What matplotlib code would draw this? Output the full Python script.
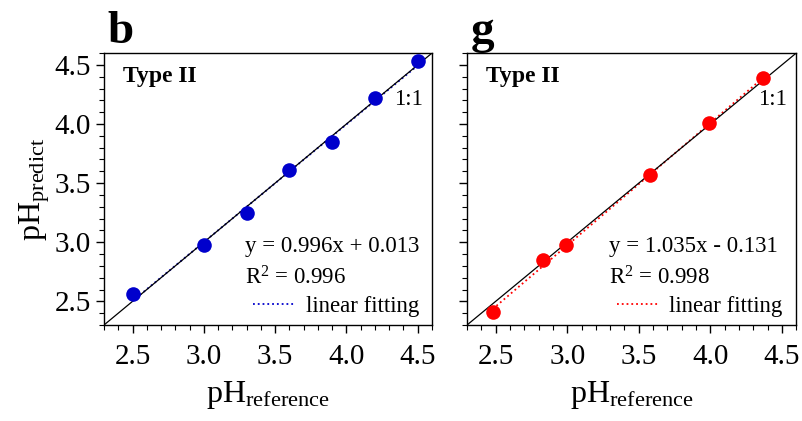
import numpy as np
import matplotlib
matplotlib.use('Agg')
import matplotlib.pyplot as plt
from matplotlib.ticker import MultipleLocator

plt.rcParams['font.family'] = ['Liberation Serif', 'DejaVu Serif']
plt.rcParams['mathtext.fontset'] = 'custom'
plt.rcParams['mathtext.rm'] = 'Liberation Serif'
plt.rcParams['mathtext.it'] = 'Liberation Serif:italic'

# panel b (blue)
x_b = [2.5, 3.0, 3.3, 3.6, 3.9, 4.2, 4.5]
y_b = [2.56, 2.98, 3.25, 3.61, 3.85, 4.22, 4.53]
fit_b = (0.996, 0.013)
eq_b = "y = 0.996x + 0.013"
r2_b = "0.996"

# panel g (red)
x_g = [2.48, 2.83, 2.99, 3.58, 3.99, 4.37]
y_g = [2.41, 2.85, 2.98, 3.57, 4.01, 4.39]
fit_g = (1.035, -0.131)
eq_g = "y = 1.035x - 0.131"
r2_g = "0.998"

lims = (2.3, 4.6)
ticks = [2.5, 3.0, 3.5, 4.0, 4.5]

fig = plt.figure(figsize=(8.03, 4.21), dpi=100)
ax1 = fig.add_axes([0.1295, 0.228, 0.4085, 0.646])
ax2 = fig.add_axes([0.5816, 0.228, 0.41, 0.646])


def draw_panel(ax, x, y, fit, eq, r2, color, letter, show_ylabel):
    ax.set_xlim(lims)
    ax.set_ylim(lims)
    ax.plot(lims, lims, color='black', lw=0.9, zorder=3)
    xf = np.array([min(x), max(x)])
    ax.plot(xf, fit[0] * xf + fit[1], ls=':', color=color, lw=1.3, zorder=2,
            label='linear fitting')
    ax.plot(x, y, 'o', color=color, ms=10.5, mec='none', zorder=4)

    ax.set_xticks(ticks)
    ax.set_yticks(ticks)
    ax.xaxis.set_minor_locator(MultipleLocator(0.1))
    ax.yaxis.set_minor_locator(MultipleLocator(0.1))
    ax.tick_params(which='major', direction='out', length=6, width=1, labelsize=21)
    ax.tick_params(axis='x', which='major', pad=8)
    ax.tick_params(which='minor', direction='out', length=3.5, width=0.8)
    for sp in ax.spines.values():
        sp.set_linewidth(1)
    ax.set_xticklabels([f"{t:.1f}" for t in ticks])
    if show_ylabel:
        ax.set_yticklabels([f"{t:.1f}" for t in ticks])
        ax.set_ylabel(r'pH$_{\mathrm{predict}}$', fontsize=23, labelpad=2)
    else:
        ax.set_yticklabels([])
    ax.set_xlabel(r'pH$_{\mathrm{reference}}$', fontsize=23, labelpad=6)

    ax.text(0.058, 0.912, 'Type II', transform=ax.transAxes, fontsize=17,
            fontweight='bold', va='center', ha='left')
    ax.text(0.885, 0.83, '1:1', transform=ax.transAxes, fontsize=16.5,
            va='center', ha='left')
    ax.text(0.43, 0.287, eq, transform=ax.transAxes, fontsize=16.5,
            va='center', ha='left')
    ax.text(0.43, 0.175, r'R$^{2}$ = ' + r2, transform=ax.transAxes, fontsize=16.5,
            va='center', ha='left')
    ax.legend(loc='center left', bbox_to_anchor=(0.42, 0.067), frameon=False,
              fontsize=16.5, handlelength=1.8, handletextpad=0.5, borderpad=0)
    ax.text(0.01, 1.0, letter, transform=ax.transAxes, fontsize=34,
            fontweight='bold', va='bottom', ha='left')


draw_panel(ax1, x_b, y_b, fit_b, eq_b, r2_b, '#0000CC', 'b', True)
draw_panel(ax2, x_g, y_g, fit_g, eq_g, r2_g, '#FF0000', 'g', False)

fig.savefig('out.png', dpi=100)
